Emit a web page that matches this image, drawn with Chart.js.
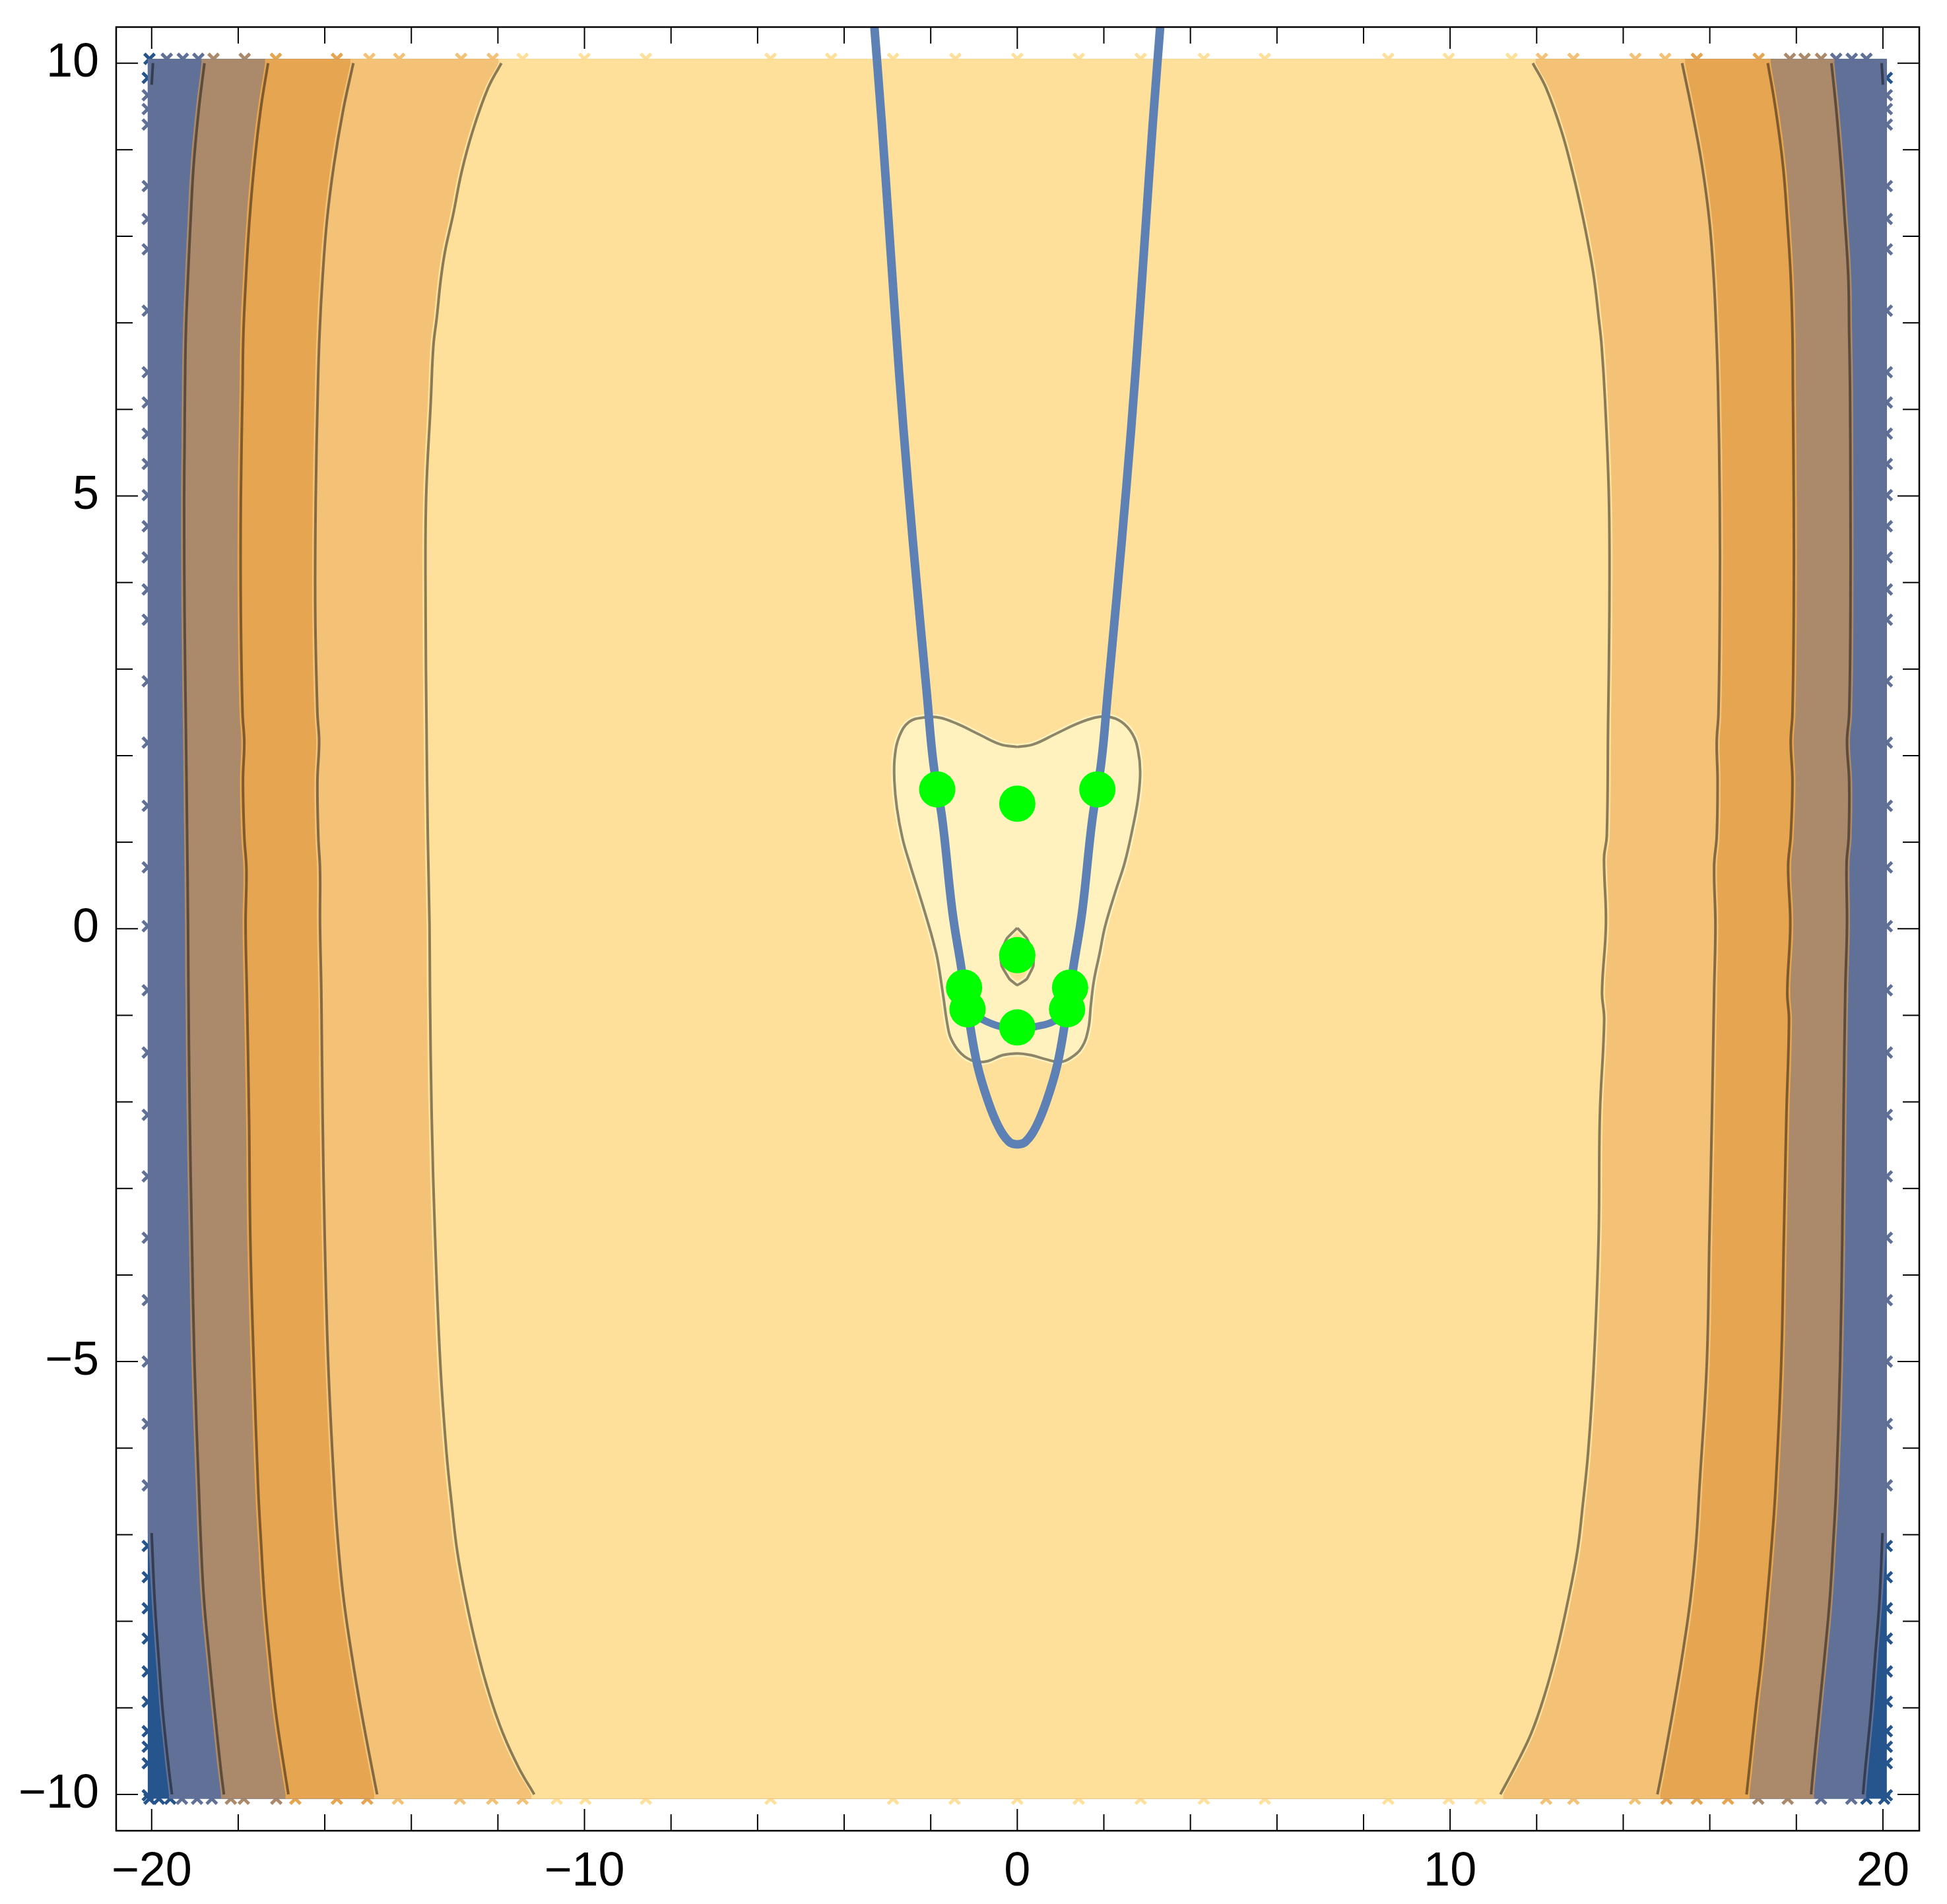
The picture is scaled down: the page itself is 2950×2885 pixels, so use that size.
<!DOCTYPE html>
<html>
<head>
<meta charset="utf-8">
<title>Contour plot</title>
<script src="https://cdn.jsdelivr.net/npm/chart.js@4"></script>
<style>
  html, body { margin: 0; padding: 0; background: #fff; }
  canvas { display: block; }
</style>
</head>
<body>
<canvas id="chart" width="2950" height="2885"></canvas>
<script>
// tick labels and tick positions
const xMajorTicks = [-20, -10, 0, 10, 20];
const xMinorTicks = [-18, -16, -14, -12, -8, -6, -4, -2, 2, 4, 6, 8, 12, 14, 16, 18];
const yMajorTicks = [-10, -5, 0, 5, 10];
const yMinorTicks = [-9, -8, -7, -6, -4, -3, -2, -1, 1, 2, 3, 4, 6, 7, 8, 9];

// contour lines, top to bottom
const contour0Left = [[-20.00, -6.98], [-19.93, -7.76], [-19.84, -8.41], [-19.74, -9.06], [-19.60, -9.72], [-19.53, -10.0]];
const contour0Right = [[19.99, -6.98], [19.92, -7.76], [19.82, -8.41], [19.72, -9.06], [19.59, -9.72], [19.54, -10.0]];
const contour0TopLeft = [[-19.97, 10.0], [-20.0, 9.75]];
const contour0TopRight = [[19.97, 10.0], [20.0, 9.75]];

const contour4Left = [[-18.78, 10.0], [-18.91, 9.47], [-19.03, 8.82], [-19.10, 8.18], [-19.16, 7.53], [-19.21, 6.88], [-19.23, 6.24], [-19.24, 5.59], [-19.25, 4.95], [-19.24, 3.65], [-19.21, 2.36], [-19.18, 1.07], [-19.16, 0.05], [-19.15, -0.73], [-19.12, -2.16], [-19.07, -3.59], [-19.01, -5.03], [-18.91, -6.46], [-18.86, -7.11], [-18.79, -7.76], [-18.67, -8.41], [-18.54, -9.06], [-18.40, -9.72], [-18.33, -10.0]];
const contour4Right = [[18.81, 10.0], [18.92, 9.47], [19.03, 8.82], [19.12, 8.18], [19.20, 7.53], [19.22, 6.88], [19.24, 6.24], [19.25, 4.95], [19.25, 3.65], [19.22, 2.49], [19.17, 2.16], [19.22, 1.71], [19.21, 1.07], [19.16, 0.75], [19.17, 0.05], [19.13, -0.73], [19.09, -2.16], [19.06, -3.59], [19.01, -5.03], [18.92, -6.46], [18.85, -7.11], [18.77, -7.76], [18.65, -8.41], [18.52, -9.06], [18.39, -9.72], [18.34, -10.0]];

const contour3Left = [[-17.31, 10.0], [-17.48, 9.47], [-17.63, 8.82], [-17.74, 8.18], [-17.82, 7.53], [-17.88, 6.88], [-17.90, 6.24], [-17.94, 4.95], [-17.94, 3.65], [-17.90, 2.49], [-17.86, 2.16], [-17.89, 1.71], [-17.86, 1.07], [-17.81, 0.68], [-17.83, 0.05], [-17.80, -0.73], [-17.75, -2.16], [-17.72, -3.59], [-17.64, -5.03], [-17.54, -6.46], [-17.47, -7.11], [-17.39, -7.76], [-17.27, -8.41], [-17.13, -9.06], [-16.93, -9.72], [-16.84, -10.0]];
const contour3Right = [[17.34, 10.0], [17.52, 9.47], [17.69, 8.82], [17.79, 8.18], [17.87, 7.53], [17.91, 6.88], [17.92, 6.24], [17.94, 4.95], [17.94, 3.65], [17.91, 2.49], [17.87, 2.16], [17.91, 1.71], [17.87, 1.07], [17.81, 0.72], [17.86, 0.05], [17.79, -0.73], [17.83, -1.05], [17.77, -2.16], [17.71, -3.59], [17.65, -5.03], [17.52, -6.46], [17.43, -7.11], [17.32, -7.76], [17.20, -8.41], [17.05, -9.06], [16.91, -9.72], [16.85, -10.0]];

const contour2Left = [[-15.34, 10.0], [-15.57, 9.47], [-15.79, 8.82], [-15.95, 8.18], [-16.05, 7.53], [-16.12, 6.88], [-16.16, 6.24], [-16.21, 4.95], [-16.22, 3.65], [-16.17, 2.49], [-16.13, 2.16], [-16.17, 1.71], [-16.15, 1.07], [-16.11, 0.68], [-16.11, 0.05], [-16.08, -0.73], [-16.05, -2.16], [-16.00, -3.59], [-15.92, -5.03], [-15.78, -6.46], [-15.69, -7.11], [-15.56, -7.76], [-15.37, -8.41], [-15.15, -9.06], [-14.90, -9.72], [-14.79, -10.0]];
const contour2Right = [[15.36, 10.0], [15.58, 9.47], [15.82, 8.82], [15.99, 8.18], [16.09, 7.53], [16.15, 6.88], [16.19, 6.24], [16.23, 4.95], [16.23, 3.65], [16.20, 2.49], [16.16, 2.16], [16.18, 1.71], [16.16, 1.07], [16.10, 0.72], [16.13, 0.05], [16.10, -0.73], [16.05, -2.16], [15.99, -3.59], [15.93, -5.03], [15.76, -6.46], [15.68, -7.11], [15.55, -7.76], [15.36, -8.41], [15.14, -9.06], [14.90, -9.72], [14.79, -10.0]];

const contour1Left = [[-11.92, 10.0], [-12.23, 9.71], [-12.58, 9.22], [-12.84, 8.74], [-13.03, 8.26], [-13.22, 7.83], [-13.32, 7.50], [-13.41, 7.07], [-13.49, 6.74], [-13.55, 6.10], [-13.66, 4.95], [-13.67, 3.65], [-13.65, 2.36], [-13.62, 1.07], [-13.58, 0.05], [-13.57, -0.73], [-13.53, -2.16], [-13.45, -3.59], [-13.33, -5.03], [-13.19, -6.04], [-13.06, -6.68], [-12.94, -7.19], [-12.73, -7.77], [-12.48, -8.33], [-12.20, -8.84], [-11.88, -9.30], [-11.51, -9.70], [-11.16, -10.0]];
const contour1Right = [[11.91, 10.0], [12.22, 9.71], [12.57, 9.22], [12.83, 8.74], [13.05, 8.26], [13.22, 7.83], [13.33, 7.50], [13.43, 7.07], [13.50, 6.74], [13.58, 6.10], [13.67, 4.95], [13.68, 3.65], [13.65, 2.36], [13.62, 1.07], [13.56, 0.85], [13.56, 0.68], [13.60, 0.05], [13.51, -0.73], [13.56, -1.05], [13.46, -2.16], [13.43, -3.59], [13.32, -5.03], [13.19, -6.04], [13.06, -6.68], [12.94, -7.19], [12.72, -7.77], [12.47, -8.33], [12.19, -8.84], [11.87, -9.30], [11.48, -9.70], [11.16, -10.0]];

// small closed contours around the middle
const centerLoop = [[0, 2.10], [0.37, 2.13], [0.88, 2.25], [1.39, 2.37], [1.80, 2.44], [2.10, 2.45], [2.41, 2.39], [2.66, 2.25], [2.79, 2.06], [2.84, 1.81], [2.79, 1.50], [2.66, 1.15], [2.48, 0.76], [2.28, 0.45], [2.03, 0.03], [1.90, -0.29], [1.77, -0.60], [1.70, -0.88], [1.64, -1.16], [1.49, -1.37], [1.24, -1.49], [0.98, -1.54], [0.68, -1.51], [0.32, -1.46], [0, -1.44], [-0.34, -1.46], [-0.69, -1.53], [-1.00, -1.53], [-1.30, -1.44], [-1.53, -1.27], [-1.62, -1.09], [-1.71, -0.78], [-1.84, -0.36], [-1.94, -0.15], [-2.04, 0.03], [-2.27, 0.41], [-2.47, 0.73], [-2.65, 1.04], [-2.78, 1.39], [-2.84, 1.71], [-2.83, 1.99], [-2.72, 2.23], [-2.50, 2.39], [-2.17, 2.44], [-1.81, 2.44], [-1.40, 2.37], [-0.90, 2.25], [-0.39, 2.13], [0, 2.10]];
const innerLoop = [[0, 0.01], [0.22, -0.11], [0.37, -0.29], [0.37, -0.43], [0.22, -0.58], [0, -0.65], [-0.18, -0.58], [-0.36, -0.43], [-0.39, -0.29], [-0.24, -0.11], [0, 0.01]];

// blue curves
const blueParabola = [[-3.33, 10.6], [-3.13, 9.3], [-2.95, 8.0], [-2.73, 6.42], [-2.52, 5.1], [-2.30, 3.85], [-2.09, 2.72], [-1.94, 1.92], [-1.73, 1.25], [-1.50, 0.20], [-1.30, -0.43], [-1.10, -1.09], [-0.92, -1.58], [-0.69, -1.97], [-0.44, -2.28], [-0.19, -2.46], [0, -2.49], [0.19, -2.46], [0.44, -2.28], [0.69, -1.97], [0.92, -1.58], [1.10, -1.09], [1.30, -0.43], [1.50, 0.20], [1.73, 1.25], [1.94, 1.92], [2.09, 2.72], [2.30, 3.85], [2.52, 5.1], [2.73, 6.42], [2.95, 8.0], [3.13, 9.3], [3.33, 10.6]];
const blueLower = [[-1.15, -0.93], [-0.84, -1.04], [-0.39, -1.13], [0, -1.14], [0.42, -1.13], [0.88, -1.06], [1.15, -0.93]];

// green points
const greenX = [-1.85, 1.85, 0, 0, -1.23, 1.22, -1.15, 1.15, 0];
const greenY = [1.61, 1.61, 1.445, -0.305, -0.68, -0.68, -0.93, -0.93, -1.14];

// the little star artefacts along the edges of the filled area
const topStars = [-20.05, -19.65, -19.28, -18.92, -18.57, -17.85, -17.13, -15.72, -14.97, -14.28, -12.85, -12.12, -11.43, -10.0, -8.58, -5.70, -4.30, -2.87, -1.43, 0, 1.42, 2.85, 4.31, 5.72, 8.57, 9.97, 11.42, 12.12, 12.85, 14.28, 14.97, 15.70, 17.13, 17.85, 18.19, 18.57, 18.92, 19.28, 19.62];
const bottomStars = [-20.05, -19.83, -19.57, -19.30, -18.95, -18.61, -18.17, -17.87, -17.12, -16.68, -15.72, -15.02, -14.31, -12.88, -12.13, -11.43, -10.64, -9.98, -8.58, -5.70, -2.87, -1.45, 0, 1.42, 2.85, 4.31, 5.72, 8.57, 9.97, 10.70, 12.22, 12.85, 14.27, 15.0, 15.70, 16.42, 17.12, 17.80, 18.57, 19.27, 19.62, 20.03];
const sideStars = [9.83, 9.63, 9.47, 9.29, 8.58, 8.20, 7.85, 7.14, 6.43, 6.08, 5.72, 5.37, 5.01, 4.65, 4.29, 3.92, 3.57, 2.86, 2.15, 1.42, 0.71, 0.03, -0.71, -1.43, -2.15, -2.86, -3.57, -4.29, -5.0, -5.72, -6.43, -7.13, -7.49, -7.85, -8.2, -8.58, -8.93, -9.27, -9.45, -9.64, -10.01];

const darkBlue = '#25558c';
const slate = '#617097';
const brown = '#ab8a6c';
const orange = '#e6a551';
const lightOrange = '#f3c277';
const pale = '#fee09b';
const cream = '#fff2be';

const edgeX = 20.09;
const edgeY = 10.05;
const fillOffset = 0.07;

function toPoints(list) {
    return list.map(function(p) { return { x: p[0], y: p[1] }; });
}

// closed shape between a left and a right contour, the fill sits a bit outside the line.
// corners are listed twice so the smoothing keeps them sharp
function bandShape(left, right) {
    const l = left.map(function(p) { return { x: p[0] - fillOffset, y: p[1] }; });
    const r = right.map(function(p) { return { x: p[0] + fillOffset, y: p[1] }; }).reverse();
    const first = { x: l[0].x, y: edgeY };
    const lowL = { x: l[l.length - 1].x, y: -edgeY };
    const lowR = { x: r[0].x, y: -edgeY };
    const last = { x: r[r.length - 1].x, y: edgeY };
    return [first, first].concat(l, [lowL, lowL, lowR, lowR], r, [last, last, first, first]);
}

function fillSet(points, color, border, width, tension) {
    return {
        data: points,
        showLine: true,
        fill: 'shape',
        backgroundColor: color,
        borderColor: border || color,
        borderWidth: width || 0,
        pointRadius: 0,
        tension: tension || 0
    };
}

function lineSet(list, color, width, tension) {
    return {
        data: toPoints(list),
        showLine: true,
        fill: false,
        borderColor: color,
        borderWidth: width,
        pointRadius: 0,
        tension: tension
    };
}

function starSet(points, colors) {
    return {
        data: points,
        showLine: false,
        pointStyle: 'crossRot',
        pointRadius: 11,
        pointBorderWidth: 5,
        pointBorderColor: colors,
        pointBackgroundColor: colors
    };
}

function edgeColor(x, top) {
    const end = function(c) { return top ? c[0][0] : c[c.length - 1][0]; };
    let color = slate;
    if (top ? Math.abs(x) > 20 : (x < end(contour0Left) || x > end(contour0Right))) color = darkBlue;
    if (x > end(contour4Left) - fillOffset && x < end(contour4Right) + fillOffset) color = brown;
    if (x > end(contour3Left) - fillOffset && x < end(contour3Right) + fillOffset) color = orange;
    if (x > end(contour2Left) - fillOffset && x < end(contour2Right) + fillOffset) color = lightOrange;
    if (x > end(contour1Left) - fillOffset && x < end(contour1Right) + fillOffset) color = pale;
    return color;
}

function sideColor(y) {
    return (y > 9.7 || y < -7) ? darkBlue : slate;
}

const sidePoints = [];
const sideColors = [];
sideStars.forEach(function(y) {
    sidePoints.push({ x: -edgeX, y: y }, { x: edgeX, y: y });
    sideColors.push(sideColor(y), sideColor(y));
});

// slate band: its outer edge runs along the edge of the plot and around the dark corners
const slateLeft = [[-20.02, 10.05], [-20.09 + fillOffset, 9.75], [-20.09 + fillOffset, -6.98]].concat(contour0Left.slice(1));
const slateRight = [[20.02, 10.05], [20.09 - fillOffset, 9.75], [20.09 - fillOffset, -6.98]].concat(contour0Right.slice(1));

const lineColor = 'rgba(0, 0, 0, 0.45)';
const smooth = 0.4;
const lineWidth = 4;

// listed in painting order, bottom layer first
const layers = [
    starSet(topStars.map(function(x) { return { x: x, y: edgeY }; }), topStars.map(function(x) { return edgeColor(x, true); })),
    starSet(bottomStars.map(function(x) { return { x: x, y: -edgeY }; }), bottomStars.map(function(x) { return edgeColor(x, false); })),
    starSet(sidePoints, sideColors),
    fillSet([{ x: -edgeX, y: edgeY }, { x: -edgeX, y: -edgeY }, { x: edgeX, y: -edgeY }, { x: edgeX, y: edgeY }, { x: -edgeX, y: edgeY }], darkBlue),
    fillSet(bandShape(slateLeft, slateRight), slate),
    fillSet(bandShape(contour4Left, contour4Right), brown, null, 0, smooth),
    fillSet(bandShape(contour3Left, contour3Right), orange, null, 0, smooth),
    fillSet(bandShape(contour2Left, contour2Right), lightOrange, null, 0, smooth),
    fillSet(bandShape(contour1Left, contour1Right), pale, null, 0, smooth),
    fillSet(toPoints(centerLoop), cream, cream, 9, smooth),
    fillSet(toPoints(innerLoop), pale, cream, 9),
    lineSet(contour0Left, lineColor, lineWidth, smooth),
    lineSet(contour0Right, lineColor, lineWidth, smooth),
    lineSet(contour0TopLeft, lineColor, lineWidth, 0),
    lineSet(contour0TopRight, lineColor, lineWidth, 0),
    lineSet(contour4Left, lineColor, lineWidth, smooth),
    lineSet(contour4Right, lineColor, lineWidth, smooth),
    lineSet(contour3Left, lineColor, lineWidth, smooth),
    lineSet(contour3Right, lineColor, lineWidth, smooth),
    lineSet(contour2Left, lineColor, lineWidth, smooth),
    lineSet(contour2Right, lineColor, lineWidth, smooth),
    lineSet(contour1Left, lineColor, lineWidth, smooth),
    lineSet(contour1Right, lineColor, lineWidth, smooth),
    lineSet(centerLoop, lineColor, lineWidth, smooth),
    lineSet(innerLoop, lineColor, lineWidth, 0.1),
    lineSet(blueParabola, '#5e81b5', 13, 0.4),
    lineSet(blueLower, '#5e81b5', 11, 0.4),
    {
        data: greenX.map(function(x, i) { return { x: x, y: greenY[i] }; }),
        showLine: false,
        pointRadius: 27.5,
        pointBorderWidth: 0,
        pointBackgroundColor: '#00ff00'
    }
];

// Chart.js paints the lowest order last
layers.forEach(function(set, i) { set.order = layers.length - i; });

// Mathematica style frame: ticks point inwards on all four sides
const frameTicks = {
    id: 'frameTicks',
    afterDatasetsDraw: function(chart) {
        const c = chart.ctx;
        const area = chart.chartArea;
        const xs = chart.scales.x;
        const ys = chart.scales.y;
        c.save();
        c.strokeStyle = '#000';
        c.lineWidth = 2;
        function tick(x1, y1, x2, y2) {
            c.beginPath();
            c.moveTo(x1, y1);
            c.lineTo(x2, y2);
            c.stroke();
        }
        function xTick(v, len) {
            const px = xs.getPixelForValue(v);
            tick(px, area.top, px, area.top + len);
            tick(px, area.bottom, px, area.bottom - len);
        }
        function yTick(v, len) {
            const py = ys.getPixelForValue(v);
            tick(area.left, py, area.left + len, py);
            tick(area.right, py, area.right - len, py);
        }
        xMajorTicks.forEach(function(v) { xTick(v, 33); });
        xMinorTicks.forEach(function(v) { xTick(v, 25); });
        yMajorTicks.forEach(function(v) { yTick(v, 33); });
        yMinorTicks.forEach(function(v) { yTick(v, 25); });
        c.lineWidth = 2.5;
        c.strokeRect(area.left, area.top, area.right - area.left, area.bottom - area.top);
        c.restore();
    }
};

function minusLabel(value) {
    return value < 0 ? '\u2212' + Math.abs(value) : String(value);
}

const labelFont = { family: '"Liberation Sans", Arial, sans-serif', size: 72 };

const ctx = document.getElementById('chart').getContext('2d');
new Chart(ctx, {
    type: 'scatter',
    data: { datasets: layers },
    options: {
        responsive: false,
        animation: false,
        devicePixelRatio: 1,
        events: [],
        layout: { padding: { top: 41, right: 42, left: 0, bottom: 0 } },
        plugins: {
            legend: { display: false },
            tooltip: { enabled: false }
        },
        scales: {
            x: {
                type: 'linear',
                min: -20.82,
                max: 20.84,
                grid: { display: false, drawTicks: false },
                border: { display: false },
                afterBuildTicks: function(axis) {
                    axis.ticks = xMajorTicks.map(function(v) { return { value: v }; });
                },
                afterFit: function(axis) {
                    axis.height = 111;
                    axis.paddingLeft = 0;
                    axis.paddingRight = 0;
                },
                ticks: {
                    autoSkip: false,
                    maxRotation: 0,
                    padding: 20,
                    color: '#000',
                    font: labelFont,
                    callback: minusLabel
                }
            },
            y: {
                type: 'linear',
                min: -10.42,
                max: 10.417,
                grid: { display: false, drawTicks: false },
                border: { display: false },
                afterBuildTicks: function(axis) {
                    axis.ticks = yMajorTicks.map(function(v) { return { value: v }; });
                },
                afterFit: function(axis) {
                    axis.width = 176;
                    axis.paddingTop = 0;
                    axis.paddingBottom = 0;
                },
                ticks: {
                    autoSkip: false,
                    padding: 26,
                    color: '#000',
                    font: labelFont,
                    callback: minusLabel
                }
            }
        }
    },
    plugins: [frameTicks]
});
</script>
</body>
</html>
